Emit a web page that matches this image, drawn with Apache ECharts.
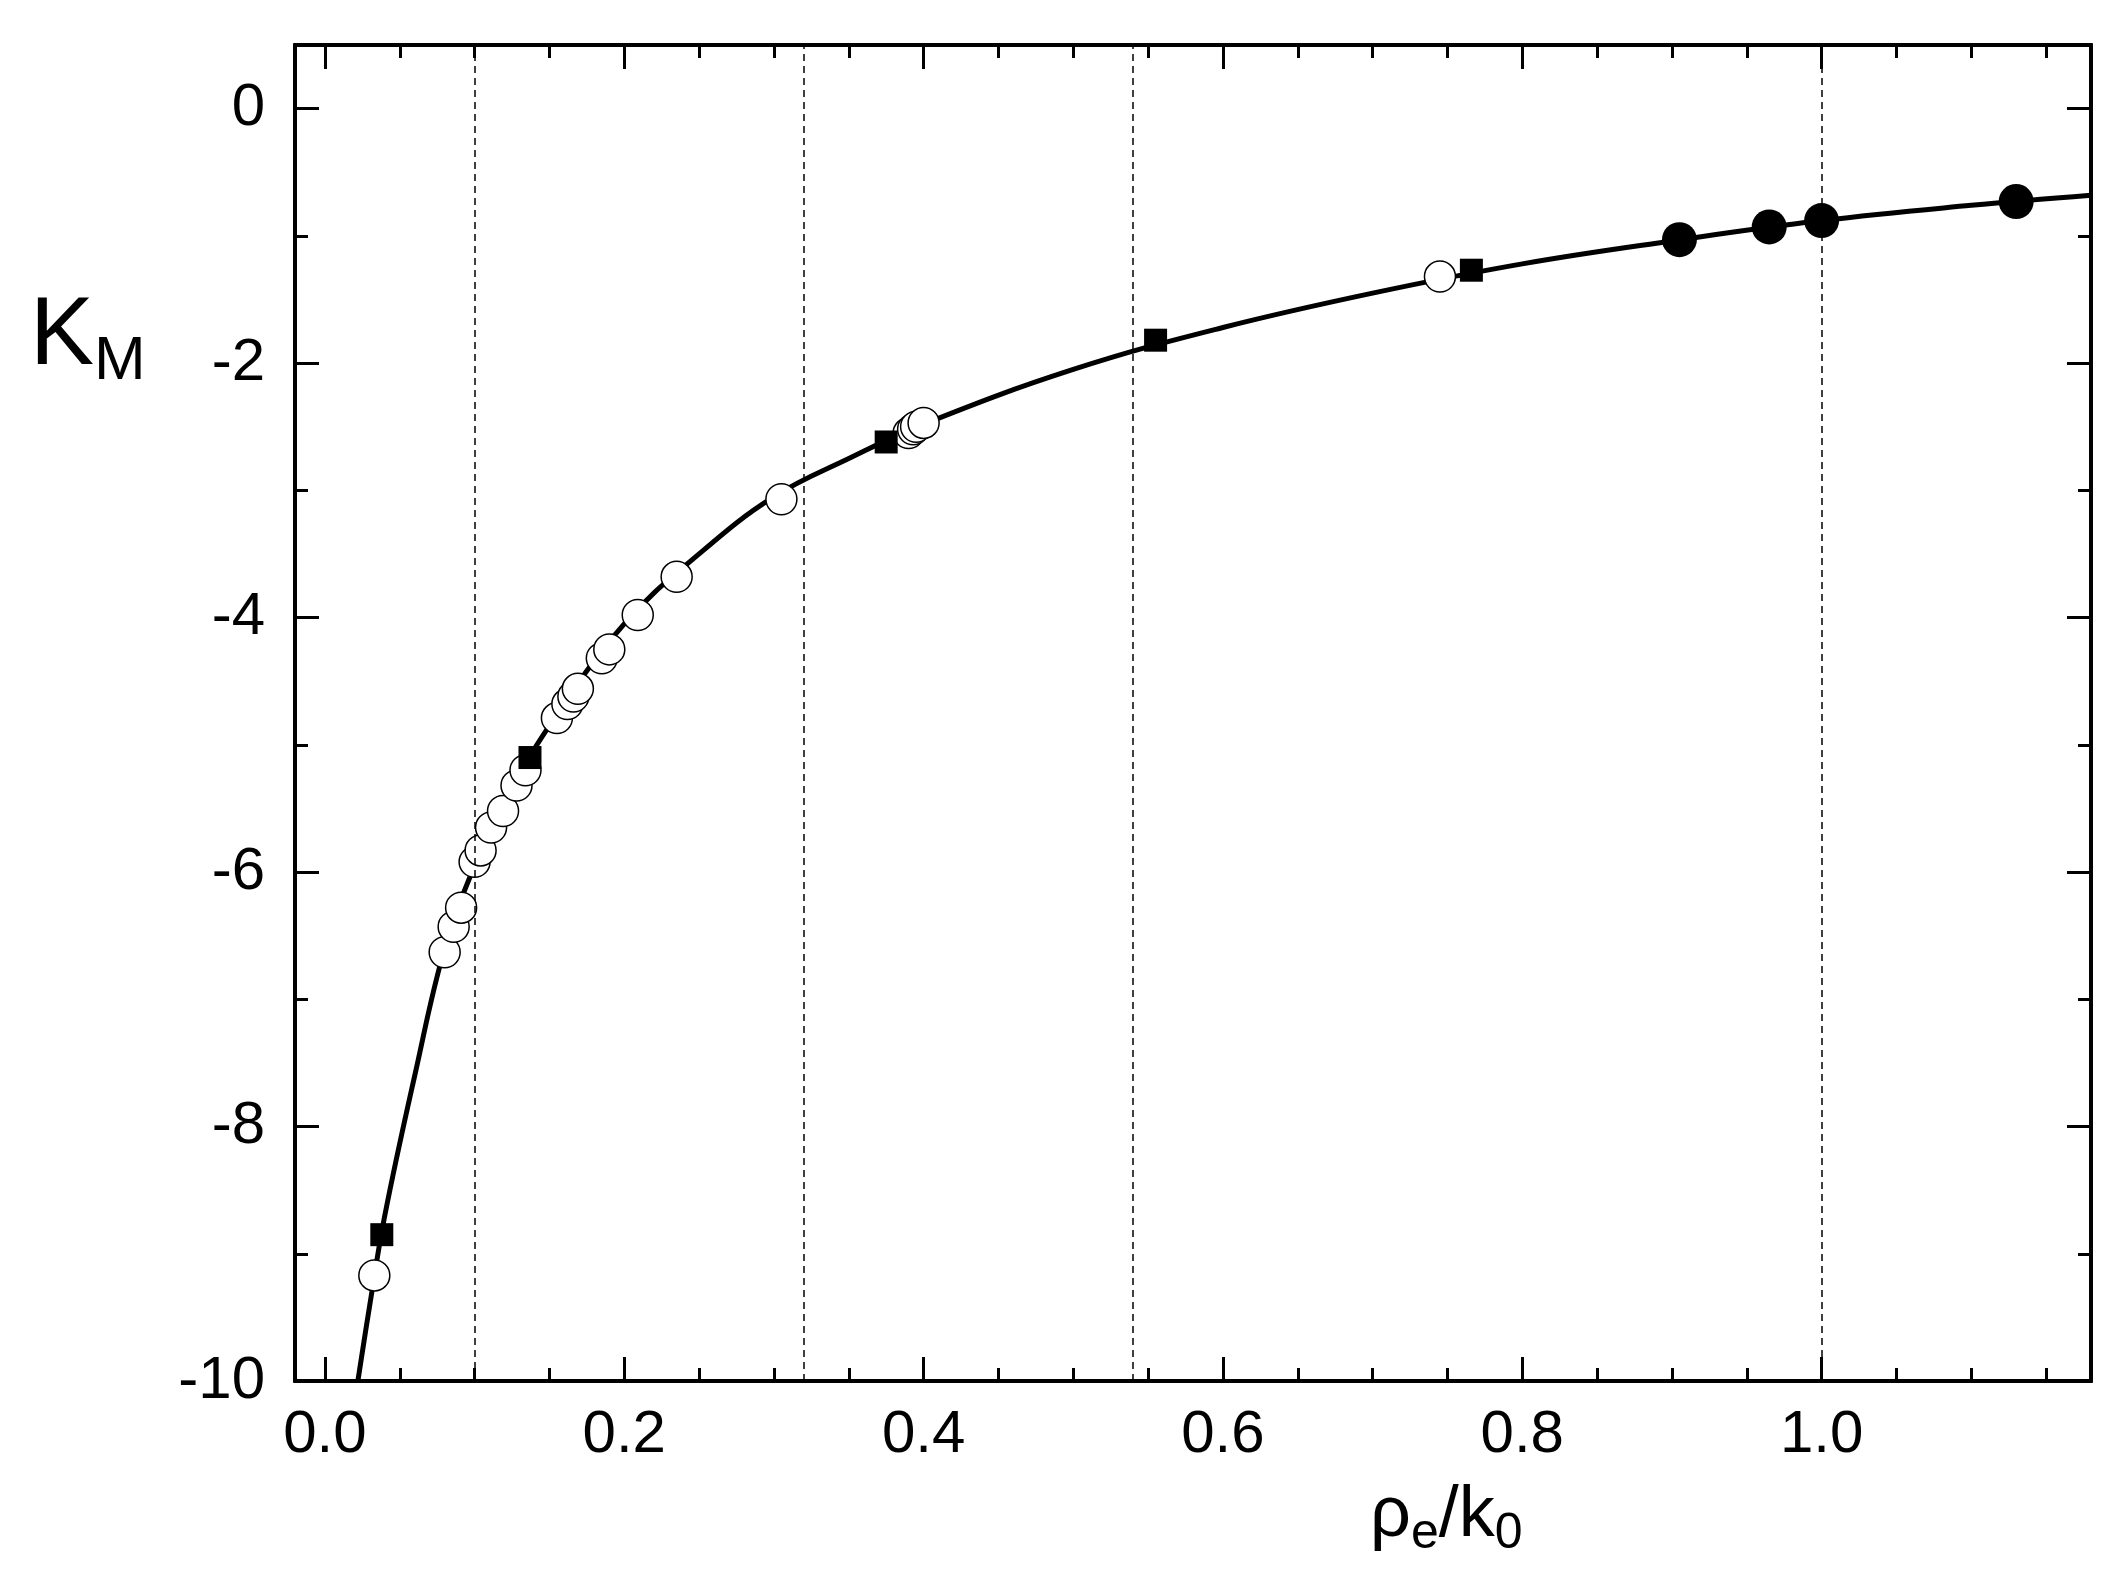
<!DOCTYPE html>
<html><head><meta charset="utf-8">
<script src="https://cdn.jsdelivr.net/npm/echarts@6/dist/echarts.min.js"></script>
<style>html,body{margin:0;background:#fff}#c{width:2115px;height:1596px}</style>
</head><body><div id="c"></div>
<script>
// fitted curve
const curveX = [0.022, 0.03, 0.04, 0.06, 0.08, 0.1, 0.12, 0.15, 0.2, 0.25, 0.3, 0.35, 0.4, 0.5, 0.6, 0.7, 0.8, 0.9, 1.0, 1.1, 1.18];
const curveY = [-10, -9.4, -8.7, -7.6, -6.6, -5.95, -5.45, -4.85, -4.05, -3.5, -3.05, -2.75, -2.48, -2.05, -1.72, -1.45, -1.22, -1.04, -0.88, -0.76, -0.68];

const openX = [0.033, 0.08, 0.086, 0.091, 0.1, 0.104, 0.111, 0.119, 0.128, 0.134, 0.155, 0.162, 0.166, 0.169, 0.185, 0.19, 0.209, 0.235, 0.305, 0.39, 0.393, 0.395, 0.4, 0.745];
const openY = [-9.17, -6.63, -6.43, -6.28, -5.92, -5.83, -5.65, -5.52, -5.32, -5.2, -4.79, -4.68, -4.62, -4.56, -4.32, -4.25, -3.98, -3.68, -3.07, -2.55, -2.52, -2.5, -2.47, -1.32];

const squareX = [0.038, 0.137, 0.375, 0.555, 0.766];
const squareY = [-8.85, -5.1, -2.62, -1.82, -1.27];

const dotX = [0.905, 0.965, 1.0, 1.13];
const dotY = [-1.03, -0.93, -0.88, -0.73];

const dashX = [0.105, 0.32, 0.536, 1.0];

const xTicks = [0, 0.2, 0.4, 0.6, 0.8, 1.0];
const xMinor = [0, 0.05, 0.1, 0.15, 0.2, 0.25, 0.3, 0.35, 0.4, 0.45, 0.5, 0.55, 0.6, 0.65, 0.7, 0.75, 0.8, 0.85, 0.9, 0.95, 1.0, 1.05, 1.1, 1.15];
const yTicks = [-10, -8, -6, -4, -2, 0];
const yMinor = [-10, -9, -8, -7, -6, -5, -4, -3, -2, -1, 0];

const zip = (a, b) => a.map((v, i) => [v, b[i]]);
const font = 'Liberation Sans Narrow, Liberation Sans';
const tick = {color: '#000', width: 3};

function xAx(pos, vals, len, labels) {
  return {
    type: 'value', position: pos, min: -0.02, max: 1.18,
    axisLine: {show: true, onZero: false, lineStyle: {color: '#000', width: 4}},
    splitLine: {show: false},
    axisTick: {inside: true, length: len, customValues: vals, lineStyle: tick},
    axisLabel: labels ? {customValues: xTicks, fontFamily: font, fontSize: 60, color: '#000', margin: 24,
      formatter: (v) => v.toFixed(1)} : {show: false}
  };
}
function yAx(pos, vals, len, labels) {
  return {
    type: 'value', position: pos, min: -10, max: 0.5,
    axisLine: {show: true, onZero: false, lineStyle: {color: '#000', width: 4}},
    splitLine: {show: false},
    axisTick: {inside: true, length: len, customValues: vals, lineStyle: tick},
    axisLabel: labels ? {customValues: yTicks, fontFamily: font, fontSize: 60, color: '#000', margin: 30} : {show: false}
  };
}

const chart = echarts.init(document.getElementById('c'));
chart.setOption({
  animation: false,
  grid: {left: 295, right: 24, top: 45, bottom: 215},
  xAxis: [xAx('bottom', xTicks, 24, true), xAx('bottom', xMinor, 13, false),
          xAx('top', xTicks, 24, false), xAx('top', xMinor, 13, false)],
  yAxis: [yAx('left', yTicks, 24, true), yAx('left', yMinor, 13, false),
          yAx('right', yTicks, 24, false), yAx('right', yMinor, 13, false)],
  graphic: [
    {type: 'text', left: 30, top: 290, style: {
      text: '{a|K}{b|M}', rich: {a: {fontFamily: font, fontSize: 96, fill: '#000'},
        b: {fontFamily: font, fontSize: 62, fill: '#000', padding: [48, 0, 0, 0]}}}},
    {type: 'text', left: 1370, top: 1480, style: {
      text: '{a|ρ}{b|e}{a|/k}{b|0}', rich: {a: {fontFamily: font, fontSize: 72, fill: '#000'},
        b: {fontFamily: font, fontSize: 50, fill: '#000', padding: [36, 0, 0, 0]}}}}
  ],
  series: [
    {type: 'line', data: zip(curveX, curveY), smooth: 0.4, symbol: 'none', z: 2,
      lineStyle: {color: '#000', width: 5},
      markLine: {silent: true, symbol: 'none', label: {show: false},
        lineStyle: {color: '#000', type: [7, 5], width: 1.5},
        data: dashX.map((v) => ({xAxis: v}))}},
    {type: 'scatter', data: zip(openX, openY), symbol: 'circle', symbolSize: 31, z: 3,
      itemStyle: {color: '#fff', borderColor: '#000', borderWidth: 1.5, opacity: 1}},
    {type: 'scatter', data: zip(squareX, squareY), symbol: 'rect', symbolSize: 23, z: 4,
      itemStyle: {color: '#000', opacity: 1}},
    {type: 'scatter', data: zip(dotX, dotY), symbol: 'circle', symbolSize: 35, z: 4,
      itemStyle: {color: '#000', opacity: 1}}
  ]
});
</script></body></html>
